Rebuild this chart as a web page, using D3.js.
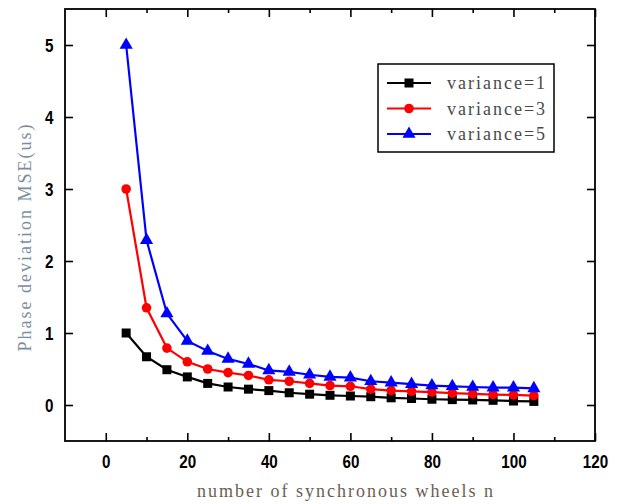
<!DOCTYPE html>
<html><head><meta charset="utf-8">
<script src="https://cdn.jsdelivr.net/npm/d3@7"></script>
<style>body{margin:0;background:#fff}svg{display:block}</style>
</head><body>
<svg id="c" width="624" height="504"></svg>
<script>
const nValues = [5,10,15,20,25,30,35,40,45,50,55,60,65,70,75,80,85,90,95,100,105];
const var1 = [1.0,0.67,0.49,0.39,0.30,0.25,0.22,0.20,0.17,0.15,0.135,0.125,0.115,0.10,0.09,0.08,0.075,0.07,0.065,0.055,0.05];
const var3 = [3.0,1.35,0.79,0.60,0.50,0.45,0.41,0.35,0.33,0.30,0.27,0.26,0.22,0.20,0.19,0.18,0.165,0.155,0.145,0.14,0.13];
const var5 = [5.0,2.29,1.27,0.89,0.75,0.64,0.57,0.48,0.46,0.42,0.39,0.38,0.33,0.31,0.29,0.27,0.26,0.25,0.24,0.24,0.23];
const seriesNames = ["variance=1","variance=3","variance=5"];
const seriesColors = ["#000000","#ff0000","#0000ff"];
const seriesShapes = ["square","circle","triangle"];
const xTicks = [0,20,40,60,80,100,120];
const xMinor = [10,30,50,70,90,110];
const yTicks = [0,1,2,3,4,5];
const xTitle = "number of synchronous wheels n";
const yTitle = "Phase deviation MSE(us)";

(function(){
const svg = d3.select("#c");
const L=65,R=595,T=9,B=441;
const x = d3.scaleLinear().domain([-10,120]).range([L,R]);
const y = d3.scaleLinear().domain([-0.5,5.5]).range([B,T]);
const tickFont = "'Liberation Sans','Arial',sans-serif";
const serif = "'Liberation Serif','Times New Roman',serif";

const g = svg.append("g");
g.append("g").attr("class","xl").attr("transform",`translate(0,${B})`)
  .call(d3.axisBottom(x).tickValues(xTicks).tickSize(-8).tickPadding(14).tickFormat(d3.format("d")));
g.append("g").attr("transform",`translate(0,${B})`)
  .call(d3.axisBottom(x).tickValues(xMinor).tickSize(-4).tickFormat(""));
g.append("g").attr("transform",`translate(0,${T})`)
  .call(d3.axisTop(x).tickValues(xTicks).tickSize(-8).tickFormat(""));
g.append("g").attr("transform",`translate(0,${T})`)
  .call(d3.axisTop(x).tickValues(xMinor).tickSize(-4).tickFormat(""));
g.append("g").attr("class","yl").attr("transform",`translate(${L},0)`)
  .call(d3.axisLeft(y).tickValues(yTicks).tickSize(-8).tickPadding(12).tickFormat(d3.format("d")));
g.append("g").attr("transform",`translate(${R},0)`)
  .call(d3.axisRight(y).tickValues(yTicks).tickSize(-8).tickFormat(""));
g.selectAll(".domain").remove();
g.selectAll(".tick line").attr("stroke","#000").attr("stroke-width",1.6);
g.selectAll(".tick text").attr("font-family",tickFont).attr("font-weight","bold")
  .attr("font-size",19).attr("fill","#000");
// condensed look of the original digits
g.selectAll(".xl .tick text").attr("transform","scale(0.8,1)");
g.selectAll(".yl .tick text").attr("transform","translate(-2,0) scale(0.8,1)");

svg.append("rect").attr("x",L).attr("y",T).attr("width",R-L).attr("height",B-T)
  .attr("fill","none").attr("stroke","#000").attr("stroke-width",1.8);

const allSeries = [var1,var3,var5];
const line = d3.line().x((d,i)=>x(nValues[i])).y(d=>y(d));
function drawMarker(sel, shape, color){
  if(shape==="square"){
    sel.append("rect").attr("x",-4.5).attr("y",-4.5).attr("width",9).attr("height",9).attr("fill",color);
  } else if(shape==="circle"){
    sel.append("circle").attr("r",4.8).attr("fill",color);
  } else {
    sel.append("path").attr("d",d3.symbol(d3.symbolTriangle,75)()).attr("fill",color);
  }
}
allSeries.forEach((vals,si)=>{
  const c = seriesColors[si];
  svg.append("path").datum(vals).attr("d",line).attr("fill","none")
    .attr("stroke",c).attr("stroke-width",2.2);
  vals.forEach((v,i)=>{
    const m = svg.append("g").attr("transform",`translate(${x(nValues[i])},${y(v)})`);
    drawMarker(m, seriesShapes[si], c);
  });
});

const lg = svg.append("g");
lg.append("rect").attr("x",378).attr("y",64).attr("width",176).attr("height",88)
  .attr("fill","#fff").attr("stroke","#000").attr("stroke-width",1.5);
seriesNames.forEach((name,i)=>{
  const yy = 83 + i*25.5;
  lg.append("line").attr("x1",387).attr("x2",431).attr("y1",yy).attr("y2",yy)
    .attr("stroke",seriesColors[i]).attr("stroke-width",2.2);
  const m = lg.append("g").attr("transform",`translate(409,${yy})`);
  drawMarker(m, seriesShapes[i], seriesColors[i]);
  lg.append("text").attr("x",447).attr("y",yy).attr("dy","0.35em")
    .attr("font-family",serif).attr("font-size",18).attr("letter-spacing","2px")
    .attr("fill","#4a4a4a").text(name);
});

svg.append("text").attr("x",346).attr("y",497).attr("text-anchor","middle")
  .attr("font-family",serif).attr("font-size",18).attr("letter-spacing","2px")
  .attr("fill","#6b5e52").text(xTitle);
svg.append("text").attr("transform","translate(31,237) rotate(-90)").attr("text-anchor","middle")
  .attr("font-family",serif).attr("font-size",18).attr("letter-spacing","2px")
  .attr("fill","#7a8ea0").text(yTitle);
})();
</script>
</body></html>
